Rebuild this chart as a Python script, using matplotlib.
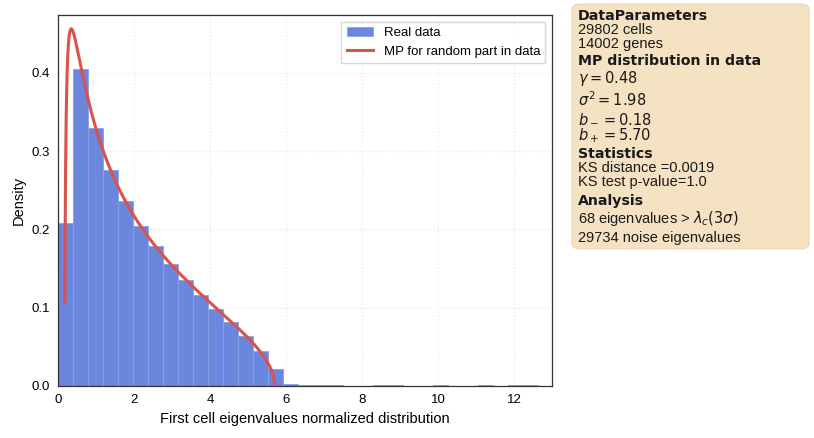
import numpy as np
import matplotlib.pyplot as plt
from matplotlib.patches import FancyBboxPatch

# histogram bins (density)
bin_width = 0.395
bin_heights = [0.208, 0.405, 0.329, 0.276, 0.236, 0.204, 0.179, 0.156, 0.135,
               0.116, 0.098, 0.082, 0.064, 0.045, 0.022, 0.002, 0.0012, 0.0012,
               0.0012, 0, 0, 0.0012, 0.0012, 0, 0, 0.0012, 0, 0, 0.0012, 0,
               0.0012, 0.0012]

# MP parameters shown in the box
gamma = 0.48
sigma2 = 1.98
b_minus = 0.18
b_plus = 5.70

edges = np.arange(len(bin_heights) + 1) * bin_width
x = np.linspace(0.1825, b_plus, 1500)
mp = np.sqrt(np.clip((b_plus - x) * (x - b_minus), 0, None)) / (2 * np.pi * gamma * sigma2 * x)

plt.rcParams["font.family"] = ["Liberation Sans", "DejaVu Sans"]
fig = plt.figure(figsize=(8.14, 4.38), dpi=100)
ax = fig.add_axes([58 / 814, 1 - 386 / 438, (552 - 58) / 814, (386 - 15) / 438])

bars = ax.bar(edges[:-1], bin_heights, width=bin_width, align="edge", color="#6a86dd",
              edgecolor="#8aa0e6", linewidth=0.6, label="Real data", zorder=2)
line, = ax.plot(x, mp, color="#d9534a", linewidth=2.2, label="MP for random part in data", zorder=3)

ax.set_xlim(0, 13.0)
ax.set_ylim(0, 0.474)
ax.set_xticks([0, 2, 4, 6, 8, 10, 12])
ax.set_yticks([0.0, 0.1, 0.2, 0.3, 0.4])
ax.grid(True, color="#ececec", linestyle=":", linewidth=1.0, zorder=0)
ax.set_axisbelow(True)
for s in ax.spines.values():
    s.set_color("#333333")
    s.set_linewidth(0.9)
ax.tick_params(labelsize=9.5, length=0, pad=6)
ax.set_xlabel("First cell eigenvalues normalized distribution", fontsize=10.5)
ax.set_ylabel("Density", fontsize=10.5)
ax.legend([bars, line], ["Real data", "MP for random part in data"], loc="upper right",
          fontsize=9.5, frameon=True, edgecolor="#cccccc", fancybox=False)

# info box
W, H = 814.0, 438.0
box = FancyBboxPatch((572 / W, 1 - 249 / H), (809 - 572) / W, (249 - 4) / H,
                     boxstyle="round,pad=0,rounding_size=0.012",
                     transform=fig.transFigure, facecolor="#f5e2c2",
                     edgecolor="#ecd6b2", linewidth=0.8)
fig.patches.append(box)

lines = [
    (16, "DataParameters", "bold", 10.2),
    (30, "29802 cells", "normal", 10.5),
    (44, "14002 genes", "normal", 10.5),
    (61, "MP distribution in data", "bold", 10.2),
    (78, r"$\gamma = 0.48$", "normal", 10.5),
    (100, r"$\sigma^2 = 1.98$", "normal", 10.5),
    (119, r"$b_- = 0.18$", "normal", 10.5),
    (136, r"$b_+ = 5.70$", "normal", 10.5),
    (154, "Statistics", "bold", 10.2),
    (168, "KS distance =0.0019", "normal", 10.5),
    (182, "KS test p-value=1.0", "normal", 10.5),
    (201, "Analysis", "bold", 10.2),
    (219, r"68 eigenvalues > $\lambda_c(3\sigma)$", "normal", 10.5),
    (238, "29734 noise eigenvalues", "normal", 10.5),
]
for ypx, txt, weight, size in lines:
    fam = ["DejaVu Sans"] if weight == "bold" else ["Liberation Sans", "DejaVu Sans"]
    fig.text(578 / W, 1 - ypx / H, txt, fontsize=size, fontweight=weight,
             va="center", ha="left", family=fam, color="#1a1a1a")

fig.savefig("out.png", dpi=100)
